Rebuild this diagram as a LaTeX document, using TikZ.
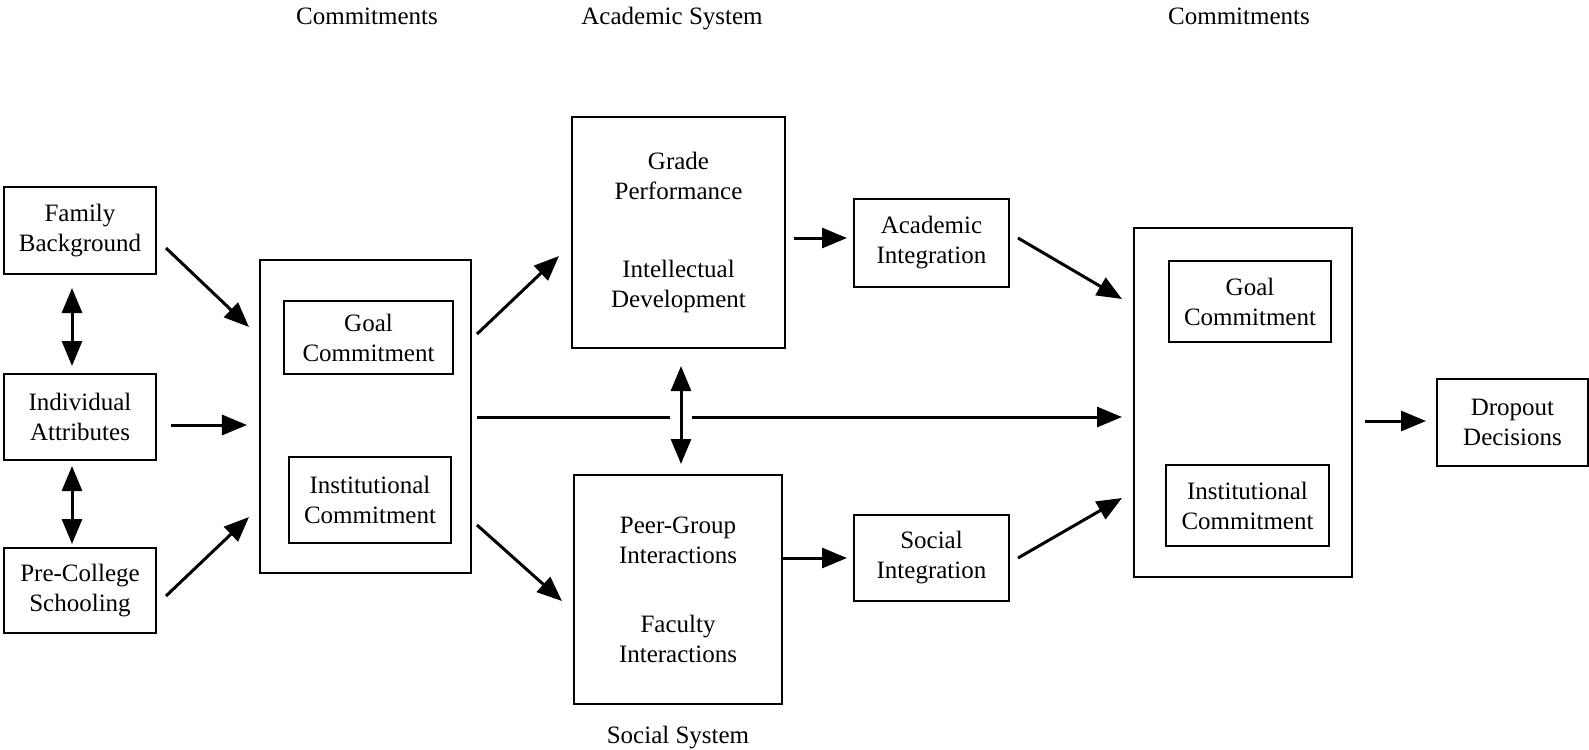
\documentclass[tikz,border=0pt]{standalone}
\usepackage{fontspec}
\setmainfont{Liberation Serif}
\usetikzlibrary{arrows.meta}

\begin{document}
\begin{tikzpicture}[x=0.4pt,y=-0.4pt,
    head/.style={text height=7pt,text depth=2.2pt},
    box/.style={draw,line width=0.8pt,align=center,inner sep=0pt},
    arr/.style={line width=1.2pt,-{Triangle[length=10pt,width=8pt]}},
    dbl/.style={line width=1.2pt,{Triangle[length=10pt,width=8pt]}-{Triangle[length=10pt,width=8pt]}}]
    \useasboundingbox (0,0) rectangle (1589,749);
    %% Headings
    \node[head] (hleft) at (367,18) {Commitments};
    \node[head] (hacad) at (672,18) {Academic System};
    \node[head] (hright) at (1239,18) {Commitments};
    \node[head] (hsoc) at (678,737) {Social System};
    %% Background boxes
    \node[box,minimum width=60.8pt,minimum height=34.8pt] (fam) at (80,230.5) {Family\\Background};
    \node[box,minimum width=60.8pt,minimum height=34.4pt] (ind) at (80,417) {Individual\\Attributes};
    \node[box,minimum width=60.8pt,minimum height=34pt] (pre) at (80,590.5) {Pre-College\\Schooling};
    %% Commitments (left)
    \node[box,minimum width=84.4pt,minimum height=125.2pt] (lcom) at (365.5,416.5) {};
    \node[box,minimum width=67.6pt,minimum height=29.2pt] (lgoal) at (368.5,337.5) {Goal\\Commitment};
    \node[box,minimum width=64.8pt,minimum height=34.4pt] (linst) at (370,500) {Institutional\\Commitment};
    %% Academic and social systems
    \node[box,minimum width=85.2pt,minimum height=92.4pt] (acad) at (678.5,232.5) {Grade\\Performance\\[19pt]Intellectual\\Development};
    \node[box,minimum width=83.2pt,minimum height=91.6pt] (soc) at (678,589.5) {Peer-Group\\Interactions\\[15.6pt]Faculty\\Interactions};
    \node[box,minimum width=62pt,minimum height=35.2pt] (aint) at (931.5,243) {Academic\\Integration};
    \node[box,minimum width=62pt,minimum height=34.4pt] (sint) at (931.5,558) {Social\\Integration};
    %% Commitments (right)
    \node[box,minimum width=87.2pt,minimum height=139.6pt] (rcom) at (1243,402.5) {};
    \node[box,minimum width=64.8pt,minimum height=32.4pt] (rgoal) at (1250,301.5) {Goal\\Commitment};
    \node[box,minimum width=65.2pt,minimum height=32.4pt] (rinst) at (1247.5,505.5) {Institutional\\Commitment};
    %% Outcome
    \node[box,minimum width=60.4pt,minimum height=34.8pt] (drop) at (1512.5,422.5) {Dropout\\Decisions};
    %% Vectors
    \draw[arr] ([shift={(9,17.5)}]fam.east) -- ([shift={(-10,-89.5)}]lcom.west);
    \draw[arr] ([shift={(14,8)}]ind.east) -- ([shift={(-12,8.5)}]lcom.west);
    \draw[arr] ([shift={(9,5.5)}]pre.east) -- ([shift={(-10,100.5)}]lcom.west);
    \draw[dbl] ([shift={(-8,13)}]fam.south) -- ([shift={(-8,-7)}]ind.north);
    \draw[dbl] ([shift={(-8,5)}]ind.south) -- ([shift={(-8,-3)}]pre.north);
    \draw[arr] ([shift={(5,-82.5)}]lcom.east) -- ([shift={(-12,23.5)}]acad.west);
    \draw[arr] ([shift={(5,108.5)}]lcom.east) -- ([shift={(-11,11.5)}]soc.west);
    \draw[arr] ([shift={(5,0.5)}]lcom.east) -- ([shift={(-11,14.5)}]rcom.west);
    \draw[dbl,preaction={draw=white,line width=9pt,-,shorten <=12pt,shorten >=12pt}] ([shift={(2.5,17)}]acad.south) -- ([shift={(3,-10)}]soc.north);
    \draw[arr] ([shift={(8,5.5)}]acad.east) -- ([shift={(-6,-5)}]aint.west);
    \draw[arr] ([shift={(0,-31.5)}]soc.east) -- ([shift={(-6,0)}]sint.west);
    \draw[arr] ([shift={(8,-5)}]aint.east) -- ([shift={(-11,-103.5)}]rcom.west);
    \draw[arr] ([shift={(8,0)}]sint.east) -- ([shift={(-11,95.5)}]rcom.west);
    \draw[arr] ([shift={(12,18.5)}]rcom.east) -- ([shift={(-10,-1.5)}]drop.west);
\end{tikzpicture}
\end{document}
